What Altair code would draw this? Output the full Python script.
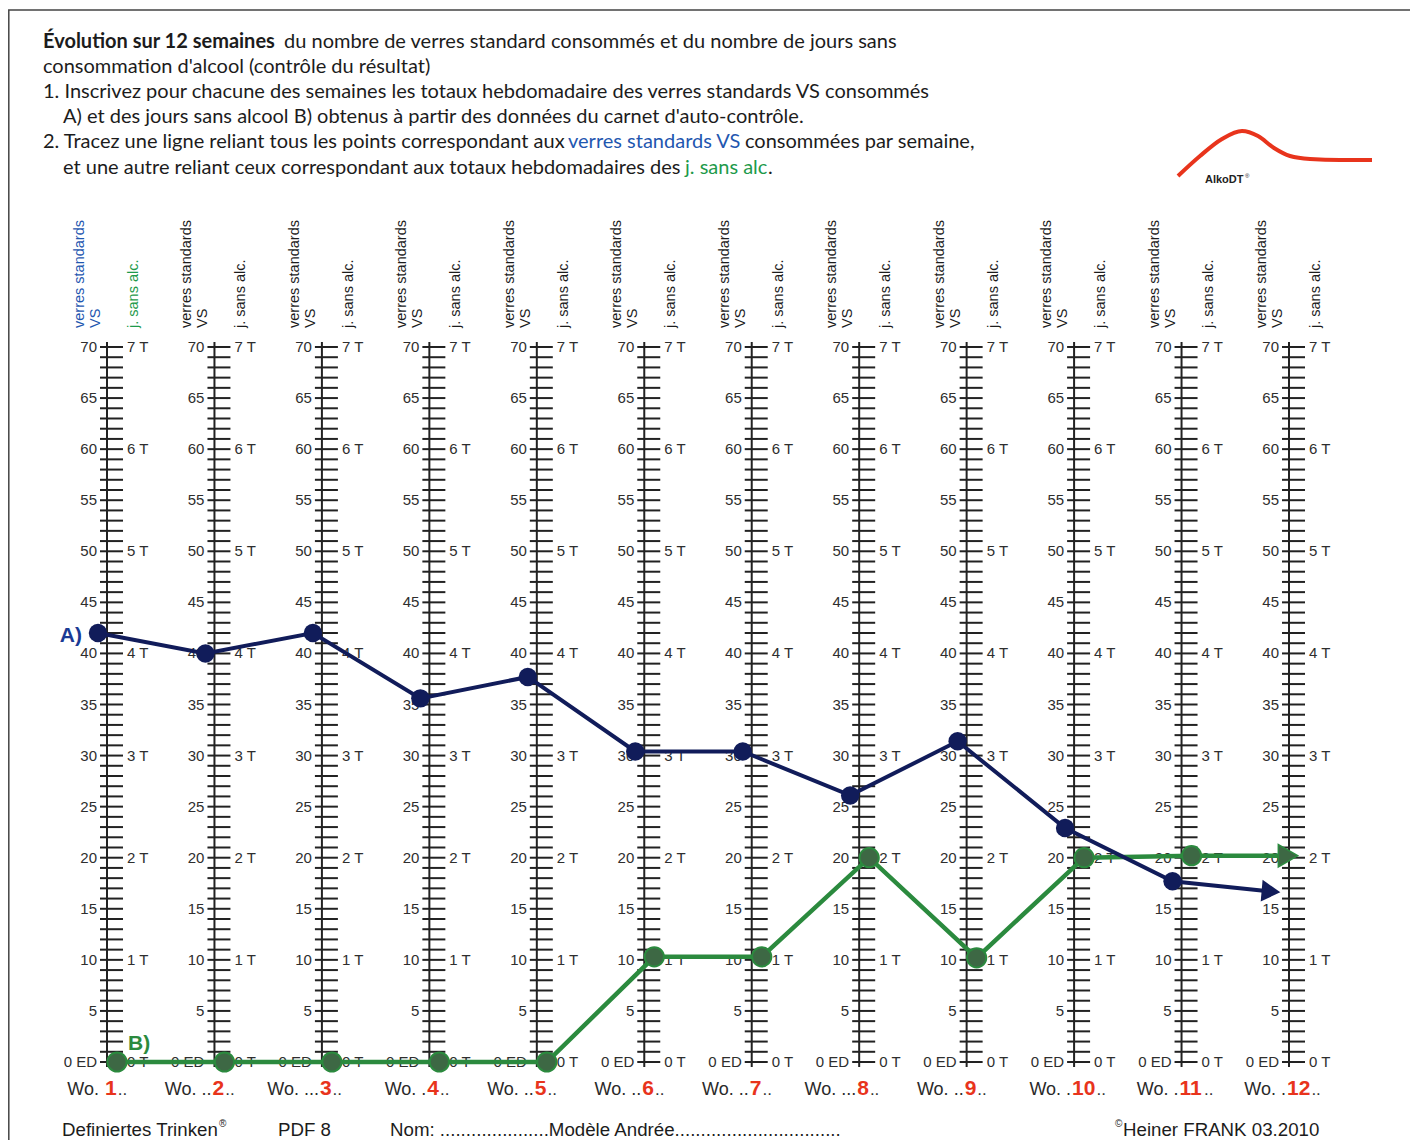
import altair as alt
import pandas as pd

# ---------------- data ----------------
WEEKS = list(range(1, 13))
VS_VALUES = [42.0, 40.0, 42.0, 35.6, 37.7, 30.4, 30.4, 26.1, 31.4, 22.9, 17.7]   # weeks 1..11
VS_ARROW_END = 16.7                                                              # arrow at week 12
DAYS_VALUES = [0, 0, 0, 0, 0, 1.03, 1.03, 2.0, 1.02, 2.0, 2.02]                  # weeks 1..11
DAYS_ARROW_END = 2.02
VS_TICK_VALUES = list(range(0, 71))
VS_LABEL_VALUES = list(range(0, 71, 5))
DAY_LABEL_VALUES = list(range(0, 8))
WEEK_PREFIX = ["Wo. ", "Wo. ..", "Wo. ...", "Wo. .", "Wo. ..", "Wo. ..",
               "Wo. ..", "Wo. ...", "Wo. ..", "Wo. .", "Wo. .", "Wo. ."]
WEEK_SUFFIX = ".."
HEADER_VS = "verres standards"
HEADER_VS2 = "VS"
HEADER_DAYS = "j. sans alc."
TITLE_BOLD = "Évolution sur 12 semaines"
TITLE_L1 = "du nombre de verres standard consommés et du nombre de jours sans"
TITLE_L2 = "consommation d'alcool (contrôle du résultat)"
TITLE_L3 = "1. Inscrivez pour chacune des semaines les totaux hebdomadaire des verres standards VS consommés"
TITLE_L4 = "A) et des jours sans alcool B) obtenus à partir des données du carnet d'auto-contrôle."
TITLE_L5A = "2. Tracez une ligne reliant tous les points correspondant aux"
TITLE_L5B = "verres standards VS"
TITLE_L5C = "consommées par semaine,"
TITLE_L6A = "et une autre reliant ceux correspondant aux totaux hebdomadaires des"
TITLE_L6B = "j. sans alc"
TITLE_L6C = "."
FOOT_1 = "Definiertes Trinken"
FOOT_PDF = "PDF 8"
FOOT_NOM = "Nom: .....................Modèle Andrée................................"
FOOT_COPY = "Heiner FRANK 03.2010"
LABEL_A = "A)"
LABEL_B = "B)"
LOGO_TEXT = "AlkoDT"
LOGO_X = [1178, 1200, 1222, 1242, 1258, 1274, 1290, 1310, 1340, 1372]
LOGO_Y = [176, 156, 139, 131, 136, 148, 156, 159, 160, 160]

# ---------------- geometry (styles) ----------------
W, H = 1402, 1132
PXW = 1182 / 11.0                       # pixels per week
X0 = 1 - 99 / PXW
XS = alt.Scale(domain=[X0, X0 + W / PXW], nice=False, zero=False)
PXV = 715 / 70.0                        # pixels per VS unit
YS = alt.Scale(domain=[-(H - 1054) / PXV, 70 + 339 / PXV], nice=False, zero=False)

BLUE = "#111c5a"
GREEN_LINE = "#2b8a3e"
GREEN_DOT = "#3d6844"
RED = "#e8341c"
HEAD_BLUE = "#1f57b0"
HEAD_GREEN = "#1e9a4b"
TXT = "#1c1c1c"
AX = "#222222"
SANS = "Liberation Sans"
TFONT = "Lato"


def ptext(txt, x, y, **kw):
    return alt.Chart(pd.DataFrame({"t": [txt]})).mark_text(**kw).encode(
        x=alt.value(x), y=alt.value(y), text="t:N")


weeks_df = pd.DataFrame({"week": WEEKS, "prefix": WEEK_PREFIX})
ticks_df = pd.DataFrame([(w, v) for w in WEEKS for v in VS_TICK_VALUES], columns=["week", "v"])
vlab_df = pd.DataFrame([(w, v) for w in WEEKS for v in VS_LABEL_VALUES], columns=["week", "v"])
dlab_df = pd.DataFrame([(w, d) for w in WEEKS for d in DAY_LABEL_VALUES], columns=["week", "d"])
blue_df = pd.DataFrame({"week": WEEKS[:11] + [WEEKS[-1]],
                        "v": VS_VALUES + [VS_ARROW_END],
                        "kind": ["pt"] * 11 + ["arrow"]})
green_df = pd.DataFrame({"week": WEEKS[:11] + [WEEKS[-1]],
                         "days": DAYS_VALUES + [DAYS_ARROW_END],
                         "kind": ["pt"] * 11 + ["arrow"]})
logo_df = pd.DataFrame({"lx": [x - 8 for x in LOGO_X], "ly": [y - 8 for y in LOGO_Y]})

# frame
frame = alt.Chart(pd.DataFrame({"a": [0]})).mark_rect(
    fillOpacity=0, stroke="#444", strokeWidth=1.5).encode(
    x=alt.value(0.8), y=alt.value(2), x2=alt.value(1500), y2=alt.value(1500))

# logo
logo_line = alt.Chart(logo_df).mark_line(color=RED, strokeWidth=4, interpolate="monotone").encode(
    x=alt.X("lx:Q", scale=None, axis=None), y=alt.Y("ly:Q", scale=None, axis=None))
logo_txt = ptext(LOGO_TEXT, 1197, 172, font=SANS, fontSize=11, fontWeight="bold",
                 color="#222", align="left", baseline="middle")
logo_reg = ptext("®", 1237, 168, font=SANS, fontSize=6, color="#222", align="left", baseline="middle")

# column headers
hbase = alt.Chart(weeks_df).encode(x=alt.X("week:Q", scale=XS, axis=None), y=alt.value(320))
head_vs = hbase.mark_text(angle=270, align="left", baseline="middle", dy=-27, font=SANS,
                          fontSize=14.5, text=HEADER_VS).encode(
    color=alt.condition("datum.week == 1", alt.value(HEAD_BLUE), alt.value(TXT)))
head_vs2 = hbase.mark_text(angle=270, align="left", baseline="middle", dy=-11, font=SANS,
                           fontSize=14.5, text=HEADER_VS2).encode(
    color=alt.condition("datum.week == 1", alt.value(HEAD_BLUE), alt.value(TXT)))
head_days = hbase.mark_text(angle=270, align="left", baseline="middle", dy=27, font=SANS,
                            fontSize=14.5, text=HEADER_DAYS).encode(
    color=alt.condition("datum.week == 1", alt.value(HEAD_GREEN), alt.value(TXT)))

# scale columns
ticks = alt.Chart(ticks_df).transform_calculate(
    xa=f"datum.week - {7 / PXW}", xb=f"datum.week + {16 / PXW}").mark_rule(
    color=AX, strokeWidth=2).encode(
    x=alt.X("xa:Q", scale=XS, axis=None), x2="xb:Q", y=alt.Y("v:Q", scale=YS, axis=None))
spines = alt.Chart(weeks_df).transform_calculate(y0="-0.5", y1="70.5").mark_rule(
    color=AX, strokeWidth=2).encode(
    x=alt.X("week:Q", scale=XS, axis=None), y=alt.Y("y0:Q", scale=YS, axis=None), y2="y1:Q")
vlabels = alt.Chart(vlab_df).transform_calculate(
    lab="datum.v == 0 ? '0 ED' : '' + datum.v").mark_text(
    align="right", baseline="middle", dx=-10, font=SANS, fontSize=15, color="#2e2e2e").encode(
    x=alt.X("week:Q", scale=XS, axis=None), y=alt.Y("v:Q", scale=YS, axis=None), text="lab:N")
dlabels = alt.Chart(dlab_df).transform_calculate(
    v="datum.d * 10", lab="datum.d + ' T'").mark_text(
    align="left", baseline="middle", dx=20, font=SANS, fontSize=15, color="#2e2e2e").encode(
    x=alt.X("week:Q", scale=XS, axis=None), y=alt.Y("v:Q", scale=YS, axis=None), text="lab:N")

# week labels
wk_prefix = alt.Chart(weeks_df).transform_calculate(
    plab="trim(datum.prefix)",
    xp=f"datum.week - (3 + (slice(datum.prefix, -1) == ' ' ? 5 : 0)) / {PXW}").mark_text(
    align="right", baseline="alphabetic", font=SANS, fontSize=18, color="#2a2a2a").encode(
    x=alt.X("xp:Q", scale=XS, axis=None), y=alt.value(1087), text="plab:N")
wk_num = alt.Chart(weeks_df).transform_calculate(
    lab="'' + datum.week", xn=f"datum.week - {2 / PXW}").mark_text(
    align="left", baseline="alphabetic", font=SANS, fontSize=21, fontWeight="bold", color=RED).encode(
    x=alt.X("xn:Q", scale=XS, axis=None), y=alt.value(1087), text="lab:N")
wk_suffix = alt.Chart(weeks_df).transform_calculate(
    xs=f"datum.week + (-1 + 11.7 * length('' + datum.week)) / {PXW}").mark_text(
    align="left", baseline="alphabetic", font=SANS, fontSize=17, color="#333", text=WEEK_SUFFIX).encode(
    x=alt.X("xs:Q", scale=XS, axis=None), y=alt.value(1087))

# green series (days without alcohol, 1 day = 10 VS units on the shared scale)
gbase = alt.Chart(green_df).transform_calculate(
    v="datum.days * 10",
    x=f"datum.kind == 'arrow' ? datum.week - {1 / PXW} : datum.week + {10 / PXW}")
g_line = gbase.mark_line(color=GREEN_LINE, strokeWidth=4.5).encode(
    x=alt.X("x:Q", scale=XS, axis=None), y=alt.Y("v:Q", scale=YS, axis=None), order="week:Q")
g_pts = gbase.transform_filter("datum.kind == 'pt'").mark_point(
    filled=True, size=370, color=GREEN_DOT, stroke=GREEN_LINE, strokeWidth=2, opacity=1).encode(
    x=alt.X("x:Q", scale=XS, axis=None), y=alt.Y("v:Q", scale=YS, axis=None))
g_arrow = gbase.transform_filter("datum.kind == 'arrow'").mark_point(
    shape="triangle-right", filled=True, size=500, color=GREEN_DOT, stroke=GREEN_LINE,
    strokeWidth=1.5, opacity=1).encode(
    x=alt.X("x:Q", scale=XS, axis=None), y=alt.Y("v:Q", scale=YS, axis=None))

# blue series (standard drinks)
bbase = alt.Chart(blue_df).transform_calculate(
    x=f"datum.kind == 'arrow' ? datum.week - {18 / PXW} : datum.week - {9 / PXW}")
b_line = bbase.mark_line(color=BLUE, strokeWidth=4).encode(
    x=alt.X("x:Q", scale=XS, axis=None), y=alt.Y("v:Q", scale=YS, axis=None), order="week:Q")
b_pts = bbase.transform_filter("datum.kind == 'pt'").mark_point(
    filled=True, size=340, color=BLUE, opacity=1).encode(
    x=alt.X("x:Q", scale=XS, axis=None), y=alt.Y("v:Q", scale=YS, axis=None))
b_arrow = bbase.transform_filter("datum.kind == 'arrow'").mark_point(
    shape="triangle-right", filled=True, size=470, angle=5, color=BLUE, opacity=1).encode(
    x=alt.X("x:Q", scale=XS, axis=None), y=alt.Y("v:Q", scale=YS, axis=None))

lab_a = ptext(LABEL_A, 74, 628, font=SANS, fontSize=21, fontWeight="bold", color="#1b3a94",
              align="right", baseline="middle")
lab_b = ptext(LABEL_B, 120, 1036, font=SANS, fontSize=21, fontWeight="bold", color=GREEN_LINE,
              align="left", baseline="middle")

# title block
TS = 20
t_layers = [
    ptext(TITLE_BOLD, 35, 34, font=TFONT, fontSize=TS, fontWeight="bold", color=TXT, align="left", baseline="middle"),
    ptext(TITLE_L1, 276, 34, font=TFONT, fontSize=TS, color=TXT, align="left", baseline="middle"),
    ptext(TITLE_L2, 35, 59, font=TFONT, fontSize=TS, color=TXT, align="left", baseline="middle"),
    ptext(TITLE_L3, 35, 84, font=TFONT, fontSize=TS, color=TXT, align="left", baseline="middle"),
    ptext(TITLE_L4, 55, 109, font=TFONT, fontSize=TS, color=TXT, align="left", baseline="middle"),
    ptext(TITLE_L5A, 35, 134, font=TFONT, fontSize=TS, color=TXT, align="left", baseline="middle"),
    ptext(TITLE_L5B, 560, 134, font=TFONT, fontSize=TS, color=HEAD_BLUE, align="left", baseline="middle"),
    ptext(TITLE_L5C, 737, 134, font=TFONT, fontSize=TS, color=TXT, align="left", baseline="middle"),
    ptext(TITLE_L6A, 55, 160, font=TFONT, fontSize=TS, color=TXT, align="left", baseline="middle"),
    ptext(TITLE_L6B, 677, 160, font=TFONT, fontSize=TS, color=HEAD_GREEN, align="left", baseline="middle"),
    ptext(TITLE_L6C, 760, 160, font=TFONT, fontSize=TS, color=TXT, align="left", baseline="middle"),
]

# footer
FS = 18.7
f_layers = [
    ptext(FOOT_1, 54, 1128, font=SANS, fontSize=FS, color=TXT, align="left", baseline="alphabetic"),
    ptext("®", 211, 1119, font=SANS, fontSize=10, color=TXT, align="left", baseline="alphabetic"),
    ptext(FOOT_PDF, 270, 1128, font=SANS, fontSize=FS, color=TXT, align="left", baseline="alphabetic"),
    ptext(FOOT_NOM, 382, 1128, font=SANS, fontSize=FS, color=TXT, align="left", baseline="alphabetic"),
    ptext("©", 1107, 1119, font=SANS, fontSize=10, color=TXT, align="left", baseline="alphabetic"),
    ptext(FOOT_COPY, 1115, 1128, font=SANS, fontSize=FS, color=TXT, align="left", baseline="alphabetic"),
]

chart = alt.layer(
    frame, logo_line, logo_txt, logo_reg,
    head_vs, head_vs2, head_days,
    ticks, spines, vlabels, dlabels,
    wk_prefix, wk_num, wk_suffix,
    g_line, b_line, g_pts, b_pts, g_arrow, b_arrow,
    lab_a, lab_b,
    *t_layers, *f_layers,
).properties(
    width=W, height=H, autosize=alt.AutoSizeParams(type="none"), padding=0, background="white"
).configure_view(strokeWidth=0)

chart.save("out.html", embed_options={"renderer": "svg", "actions": False})
